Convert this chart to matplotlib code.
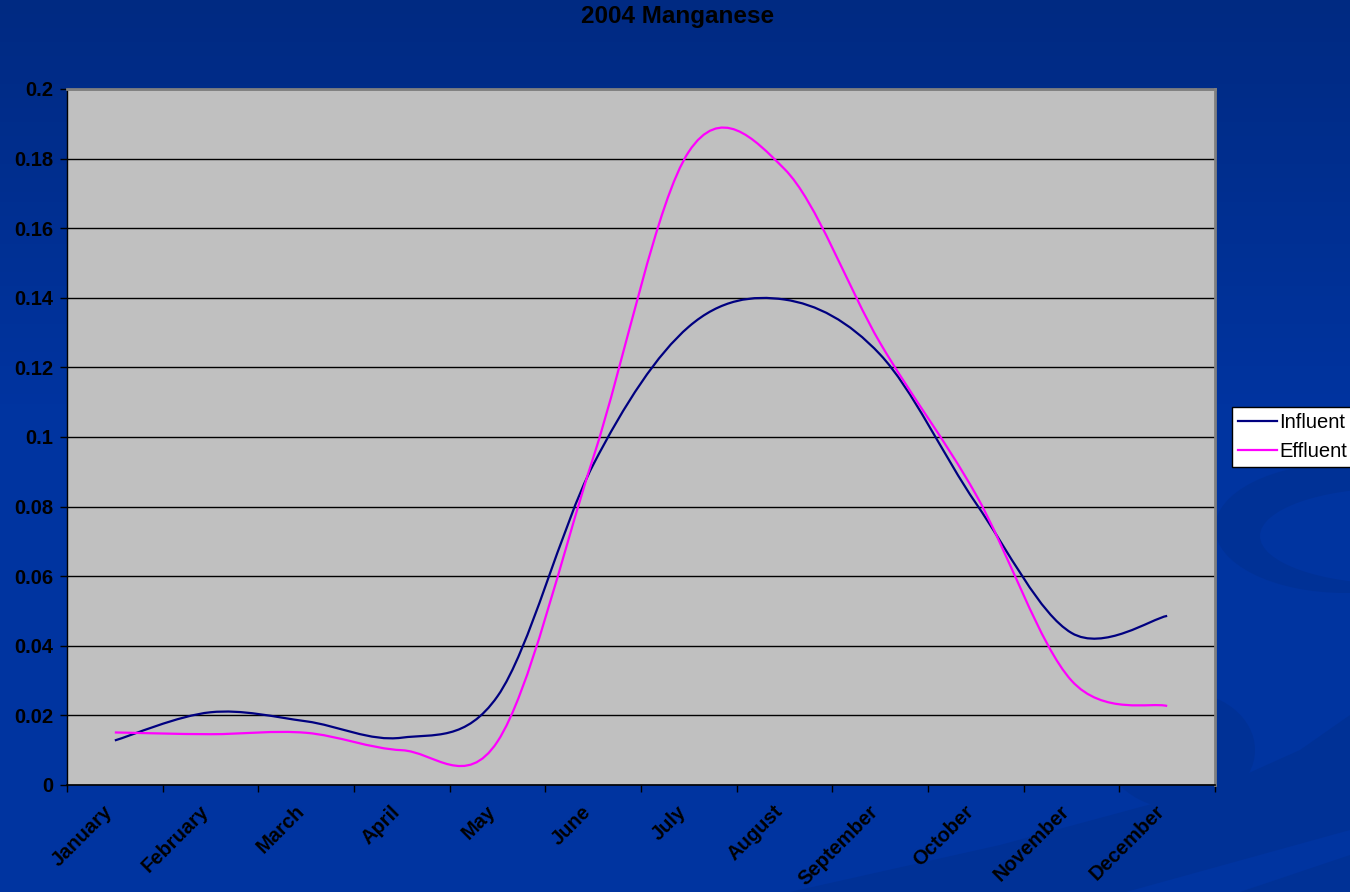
import numpy as np
import matplotlib
matplotlib.use("Agg")
import matplotlib.pyplot as plt
from matplotlib.path import Path
from matplotlib.patches import PathPatch, Ellipse, Polygon
from matplotlib.lines import Line2D
from matplotlib.transforms import ScaledTranslation

plt.rcParams['font.family'] = ['Liberation Sans', 'DejaVu Sans']

months = ['January', 'February', 'March', 'April', 'May', 'June', 'July',
          'August', 'September', 'October', 'November', 'December']
influent = [0.0128, 0.0209, 0.0183, 0.0136, 0.0255, 0.092, 0.1317,
            0.1395, 0.1237, 0.081, 0.0437, 0.0486]
effluent = [0.0151, 0.0146, 0.0150, 0.0100, 0.0125, 0.094, 0.182,
            0.177, 0.127, 0.0835, 0.030, 0.0227]
y_ticks = [0, 0.02, 0.04, 0.06, 0.08, 0.1, 0.12, 0.14, 0.16, 0.18, 0.2]
y_labels = ['0', '0.02', '0.04', '0.06', '0.08', '0.1', '0.12', '0.14',
            '0.16', '0.18', '0.2']


def smooth_path(xs, ys):
    # excel style smoothed line: cubic bezier through every point
    pts = np.column_stack([xs, ys]).astype(float)
    n = len(pts)
    verts = [pts[0]]
    codes = [Path.MOVETO]
    for i in range(n - 1):
        p_prev = pts[max(i - 1, 0)]
        p_next2 = pts[min(i + 2, n - 1)]
        c1 = pts[i] + (pts[i + 1] - p_prev) / 6.0
        c2 = pts[i + 1] - (p_next2 - pts[i]) / 6.0
        verts += [c1, c2, pts[i + 1]]
        codes += [Path.CURVE4] * 3
    return Path(verts, codes)


fig = plt.figure(figsize=(13.5, 8.92), dpi=100)

# background: blue gradient with darker swooshes (pixel coords)
bg = fig.add_axes([0, 0, 1, 1], zorder=-10)
grad = np.linspace(0, 1, 256).reshape(-1, 1)
top = np.array([0x00, 0x2A, 0x82]) / 255
bot = np.array([0x00, 0x34, 0xA0]) / 255
g = np.clip(grad * 2.2, 0, 1)
img = top[None, None, :] * (1 - g[:, :, None]) + bot[None, None, :] * g[:, :, None]
bg.imshow(img, aspect='auto', extent=[0, 1350, 892, 0])
dark = '#003196'
base = '#0034A0'
bg.add_patch(Ellipse((1345, 528), 260, 130, color=dark, lw=0))
bg.add_patch(Ellipse((1395, 536), 270, 96, color=base, lw=0))
bg.add_patch(Ellipse((1180, 750), 150, 118, color=dark, lw=0))
bg.add_patch(Polygon([(790, 892), (1000, 845), (1222, 785), (1300, 750),
                      (1350, 715), (1350, 830), (1126, 892)],
                     closed=True, color=dark, lw=0))
bg.add_patch(Polygon([(1240, 892), (1350, 855), (1350, 892)],
                     closed=True, color=dark, lw=0))
bg.set_xlim(0, 1350)
bg.set_ylim(892, 0)
bg.axis('off')

ax = fig.add_axes([67 / 1350, 107 / 892, 1148 / 1350, 696 / 892])
ax.set_facecolor('#C0C0C0')

x = np.arange(len(months))
ax.add_patch(PathPatch(smooth_path(x, influent), fill=False,
                       edgecolor='#000080', lw=1.6, zorder=3))
ax.add_patch(PathPatch(smooth_path(x, effluent), fill=False,
                       edgecolor='#FF00FF', lw=1.6, zorder=4))

ax.set_xlim(-0.5, len(months) - 0.5)
ax.set_ylim(0, 0.2)

ax.set_yticks(y_ticks)
ax.set_yticklabels(y_labels, fontsize=14.5, fontweight='bold')
ax.yaxis.grid(True, color='black', lw=1.0)
ax.set_axisbelow(True)

ax.set_xticks(np.arange(-0.5, len(months), 1))
ax.set_xticklabels([])
ax.set_xticks(x, minor=True)
ax.set_xticklabels(months, minor=True, rotation=45, ha='right', va='center',
                   rotation_mode='anchor', fontsize=14.5, fontweight='bold')
ax.tick_params(axis='x', which='minor', length=0, pad=17)
ax.tick_params(axis='both', which='major', length=5, width=1,
               direction='out', color='black', pad=5)
shift = ScaledTranslation(-5 / 100, 0, fig.dpi_scale_trans)
for lab in ax.get_xticklabels(minor=True):
    lab.set_transform(lab.get_transform() + shift)

for side in ['top', 'right']:
    ax.spines[side].set_color('#808080')
    ax.spines[side].set_linewidth(2)
ax.spines['left'].set_color('black')
ax.spines['bottom'].set_color('black')
ax.spines['left'].set_linewidth(1)
ax.spines['bottom'].set_linewidth(1.2)

fig.text(678 / 1350, 1 - 17 / 892, '2004 Manganese', ha='center', va='center',
         fontsize=17.5, fontweight='bold', color='black')

handles = [Line2D([], [], color='#000080', lw=1.6),
           Line2D([], [], color='#FF00FF', lw=1.6)]
leg = fig.legend(handles, ['Influent', 'Effluent'], loc='upper left',
                 bbox_to_anchor=(1232 / 1350, 1 - 407 / 892),
                 bbox_transform=fig.transFigure, fontsize=14.5, frameon=True,
                 fancybox=False, borderpad=0.3, handlelength=1.95,
                 handletextpad=0.1, labelspacing=0.5, borderaxespad=0)
leg.get_frame().set_edgecolor('black')
leg.get_frame().set_linewidth(1)
leg.get_frame().set_facecolor('white')
leg.get_frame().set_alpha(1)

fig.savefig('out.png', dpi=100)
